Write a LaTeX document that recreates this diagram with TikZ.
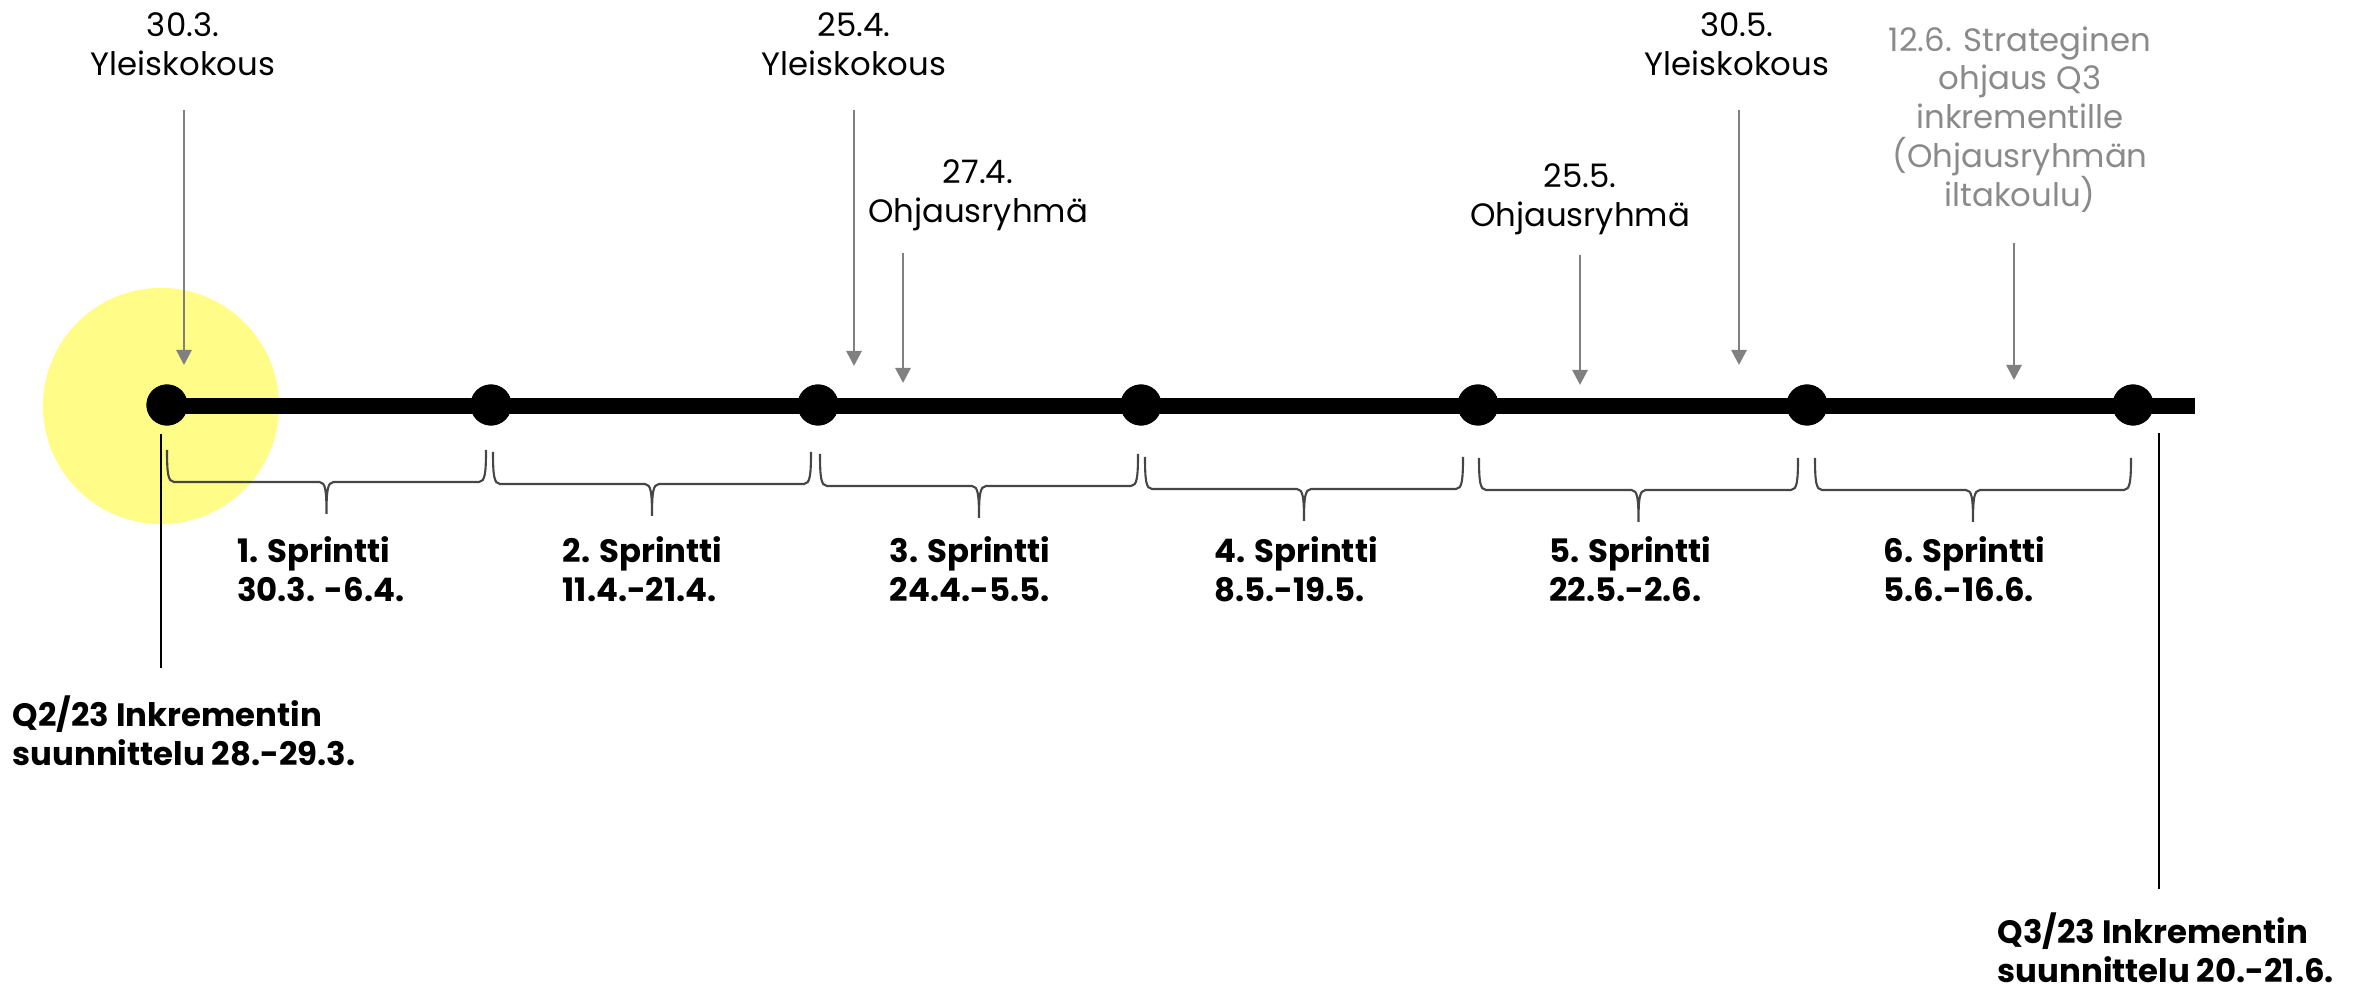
\documentclass[tikz,border=0pt]{standalone}
\usepackage{fontspec}
\setmainfont{Poppins}
\usetikzlibrary{arrows.meta}

\definecolor{markyellow}{RGB}{255,252,136}
\definecolor{eventgray}{RGB}{128,128,128}
\definecolor{notegray}{RGB}{138,138,138}
\definecolor{bracegray}{RGB}{70,70,70}

\begin{document}
\begin{tikzpicture}[x=0.01cm, y=-0.01cm,
  dot/.style={circle, fill=black, minimum size=0.41cm, inner sep=0},
  bar/.style={line width=4.3pt},
  event/.style={font=\fontsize{9.2}{11}\selectfont, align=center, anchor=north, inner sep=0},
  evarrow/.style={eventgray, line width=0.8pt, -{Triangle[width=4.3pt, length=4.3pt]}},
  sprint/.style={font=\fontsize{9.2}{11}\selectfont\bfseries, align=left, anchor=north west, inner sep=0},
  plan/.style={font=\fontsize{9.2}{11}\selectfont\bfseries, align=left, anchor=north west, inner sep=0},
  brace/.style={bracegray, line width=0.6pt},
  thin/.style={line width=0.55pt}]
  \useasboundingbox (0,0) rectangle (2357,989);

  % highlight of the start
  \fill[markyellow] (161,406) circle[radius=1.18cm];

  % timeline
  \node[dot] (d1) at (167,405) {};
  \node[dot] (d2) at (491,405) {};
  \node[dot] (d3) at (818,405) {};
  \node[dot] (d4) at (1141,405) {};
  \node[dot] (d5) at (1478,405) {};
  \node[dot] (d6) at (1807,405) {};
  \node[dot] (d7) at (2133,405) {};
  \coordinate (barend) at (2195,406);
  \draw[bar] (d1.center |- barend) -- (barend);
  \foreach \i in {1,...,7} \fill (d\i) circle[radius=0.205cm];

  % events above the line
  \node[event] (e1) at (183,12) {30.3.\\Yleiskokous};
  \node[event] (e2) at (854,12) {25.4.\\Yleiskokous};
  \node[event] (e3) at (978,159) {27.4.\\Ohjausryhmä};
  \node[event] (e4) at (1580,163) {25.5.\\Ohjausryhmä};
  \node[event] (e5) at (1737,12) {30.5.\\Yleiskokous};
  \node[event, text=notegray] (e6) at (2020,26) {12.6. Strateginen\\ohjaus Q3\\inkrementille\\(Ohjausryhmän\\iltakoulu)};

  \coordinate (a1s) at (184,110);  \coordinate (a1e) at (184,365);
  \coordinate (a2s) at (854,110);  \coordinate (a2e) at (854,366);
  \coordinate (a3s) at (903,253);  \coordinate (a3e) at (903,383);
  \coordinate (a4s) at (1580,255); \coordinate (a4e) at (1580,385);
  \coordinate (a5s) at (1739,110); \coordinate (a5e) at (1739,365);
  \coordinate (a6s) at (2014,243); \coordinate (a6e) at (2014,380);
  \foreach \i in {1,...,6} \draw[evarrow] (a\i s) -- (a\i e);

  % sprints
  \foreach \a/\b/\h/\n/\d in {167/486/482/1/30.3. -6.4.,
                              493/811/484/2/11.4.-21.4.,
                              820/1138/486/3/24.4.-5.5.,
                              1145/1463/489/4/8.5.-19.5.,
                              1479/1798/490/5/22.5.-2.6.,
                              1815/2131/490/6/5.6.-16.6.} {
    \pgfmathsetmacro\m{(\a+\b)/2}
    \draw[brace] (\a,\h-32) .. controls (\a,\h-9) and (\a+1,\h) .. (\a+7,\h)
      -- (\m-7,\h) .. controls (\m-1,\h) and (\m,\h+9) .. (\m,\h+32)
      .. controls (\m,\h+9) and (\m+1,\h) .. (\m+7,\h)
      -- (\b-7,\h) .. controls (\b-1,\h) and (\b,\h-9) .. (\b,\h-32);
    \node[sprint] (s\n) at (\m-90,536) {\n. Sprintti\\\d};
  }

  % increment planning
  \coordinate (q2top) at (161,434);
  \coordinate (q2bot) at (161,668);
  \coordinate (q3top) at (2159,433);
  \coordinate (q3bot) at (2159,889);
  \draw[thin] (q2top) -- (q2bot);
  \draw[thin] (q3top) -- (q3bot);
  \node[plan] (q2) at (12,695) {Q2/23 Inkrementin\\suunnittelu 28.-29.3.};
  \node[plan] (q3) at (1997,912) {Q3/23 Inkrementin\\suunnittelu 20.-21.6.};
\end{tikzpicture}
\end{document}
